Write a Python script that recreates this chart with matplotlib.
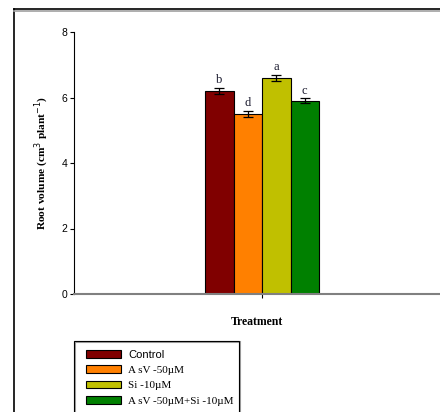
import matplotlib.pyplot as plt
from matplotlib.patches import Rectangle, Patch
from matplotlib.lines import Line2D

treatments = ['Control', 'A sV -50\u00b5M', 'Si -10\u00b5M', 'A sV -50\u00b5M+Si -10\u00b5M']
root_volume = [6.2, 5.5, 6.6, 5.9]
errors = [0.1, 0.1, 0.1, 0.07]
letters = ['b', 'd', 'a', 'c']
colors = ['#800000', '#ff8000', '#c0c000', '#008000']

fig = plt.figure(figsize=(4.4, 4.12), dpi=100)
ax = fig.add_axes([74 / 440, 1 - 294 / 412, 1 - 74 / 440, (294 - 32) / 412])

center = 188 / 28.5
pos = [center - 1.5, center - 0.5, center + 0.5, center + 1.5]
ax.bar(pos, root_volume, width=1.0, color=colors, edgecolor='black', linewidth=0.8, zorder=2)
ax.errorbar(pos, root_volume, yerr=errors, fmt='none', ecolor='black',
            elinewidth=0.9, capsize=3.5, capthick=0.9, zorder=3)
for x, v, e, l in zip(pos, root_volume, errors, letters):
    ax.text(x, v + e + 0.06, l, ha='center', va='bottom', fontsize=9,
            family='Liberation Serif', color='#1a1a2e')

ax.set_xlim(0, 366 / 28.5)
ax.set_ylim(0, 8)
ax.set_yticks([0, 2, 4, 6, 8])
ax.set_xticks([center])
ax.set_xticklabels([''])
ax.tick_params(axis='y', direction='out', length=3, width=0.8, labelsize=7.5, pad=2)
ax.tick_params(axis='x', direction='inout', length=6, width=0.8)
for lab in ax.get_yticklabels():
    lab.set_family('Liberation Sans')
ax.spines['top'].set_visible(False)
ax.spines['right'].set_visible(False)
ax.spines['bottom'].set_color('#808080')
ax.spines['bottom'].set_linewidth(1.5)
ax.spines['left'].set_color('black')
ax.spines['left'].set_linewidth(0.8)

ax.set_ylabel('Root volume (cm$^3$ plant$^{-1}$)', fontsize=8.2, fontweight='bold',
              family='Liberation Serif', labelpad=7)
ax.set_xlabel('Treatment', fontsize=8.5, fontweight='bold', family='Liberation Serif',
              labelpad=9)

# outer frame
fig.add_artist(Line2D([14 / 440, 14 / 440], [0, 1 - 9 / 412], color='black', lw=1.2,
                      transform=fig.transFigure))
fig.add_artist(Line2D([14 / 440, 1], [1 - 10.5 / 412, 1 - 10.5 / 412], color='#a0a0a0',
                      lw=1.2, transform=fig.transFigure))
fig.add_artist(Line2D([14 / 440, 1], [1 - 9 / 412, 1 - 9 / 412], color='black', lw=1.2,
                      transform=fig.transFigure))

# legend box
fig.add_artist(Rectangle((75 / 440, -0.05), 165 / 440, 0.05 + (412 - 342) / 412,
                         facecolor='none', edgecolor='#a0a0a0', lw=1.5,
                         transform=fig.transFigure))
fig.add_artist(Rectangle((74 / 440, -0.05), 165 / 440, 0.05 + (412 - 341) / 412,
                         facecolor='none', edgecolor='black', lw=0.8,
                         transform=fig.transFigure))
handles = [Patch(facecolor=c, edgecolor='black', lw=0.8) for c in colors]
leg = fig.legend(handles, treatments, loc='upper left',
                 bbox_to_anchor=(78 / 440, 1 - 342 / 412), frameon=False,
                 handlelength=3.2, handleheight=0.7, handletextpad=0.6,
                 labelspacing=0.5, borderpad=0.2,
                 prop={'family': 'Liberation Serif', 'size': 8})
leg.get_texts()[0].set_family('Liberation Sans')

fig.savefig('out.png', dpi=100)
